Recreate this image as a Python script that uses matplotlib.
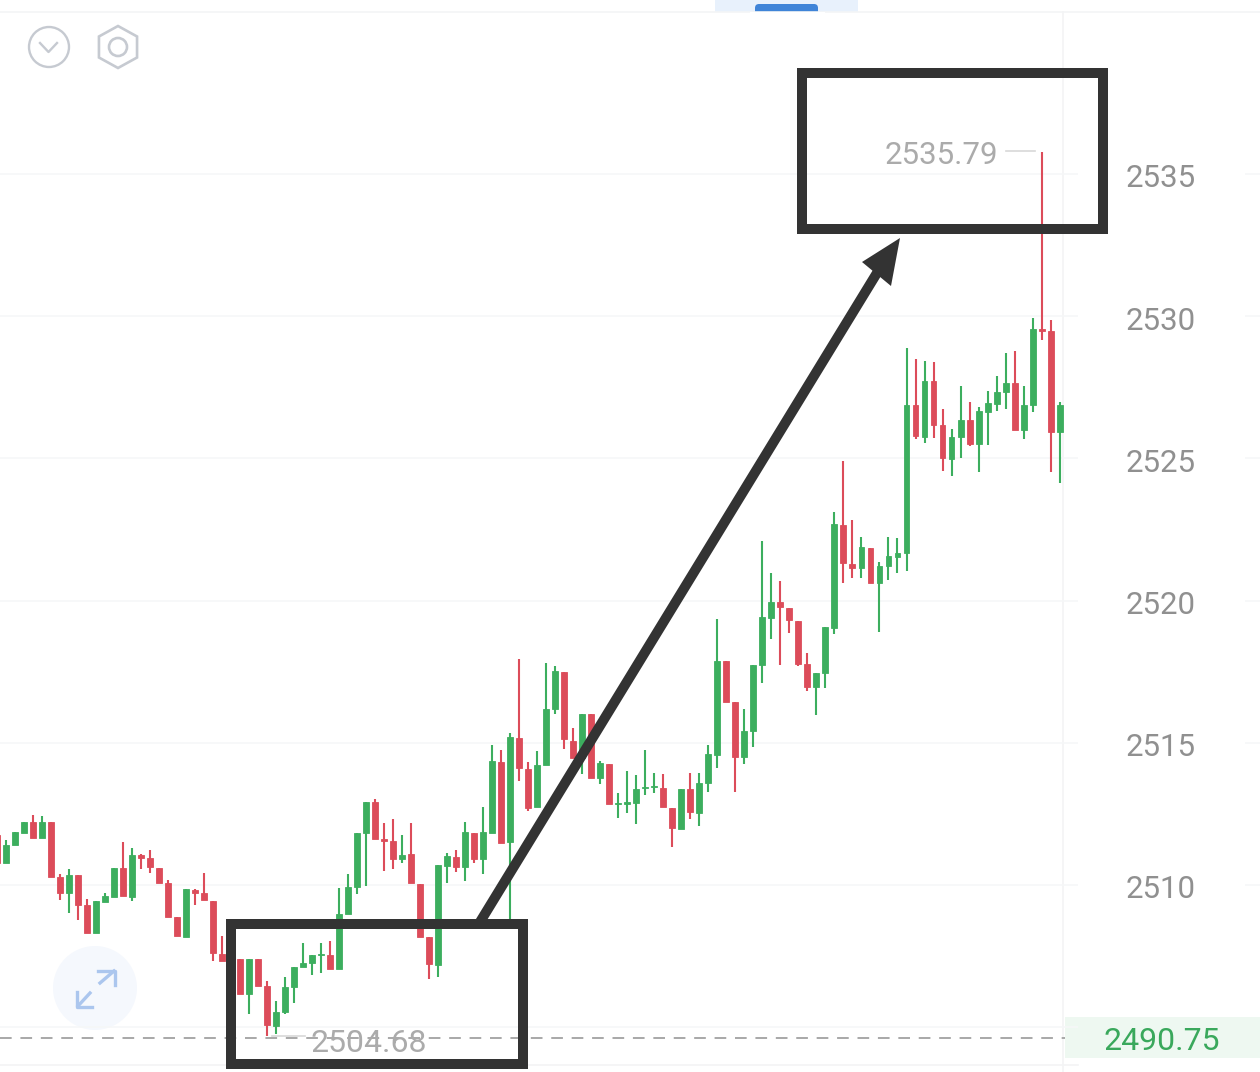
import numpy as np
import matplotlib
matplotlib.use('Agg')
import matplotlib.pyplot as plt
from matplotlib.patches import Circle, Rectangle, Polygon, FancyBboxPatch

plt.rcParams['font.family'] = ['Roboto', 'DejaVu Sans']

W, H = 1260, 1072
GREEN = '#3cae5e'
RED = '#dc4c5a'
GREY = '#909090'
DARK = '#333333'

# candles (oldest first)
opens = [2511.76, 2510.76, 2511.41, 2511.84, 2512.20, 2511.64, 2512.20, 2510.27, 2509.71, 2510.35,
         2509.30, 2508.30, 2509.41, 2509.59, 2510.59, 2509.59, 2511.05, 2510.94, 2510.60, 2510.08,
         2508.89, 2508.18, 2509.81, 2509.71, 2509.45, 2507.56, 2507.40, 2507.40, 2506.16, 2507.39,
         2506.46, 2505.05, 2505.55, 2506.40, 2507.11, 2507.25, 2507.53, 2507.54, 2507.03, 2508.97,
         2509.94, 2511.84, 2512.91, 2511.61, 2511.55, 2510.90, 2511.08, 2510.04, 2508.16, 2507.19,
         2510.68, 2511.00, 2510.62, 2511.82, 2510.93, 2511.84, 2514.34, 2511.52, 2515.16, 2514.07,
         2512.75, 2514.21, 2516.18, 2517.50, 2515.07, 2514.45, 2516.00, 2513.75, 2514.24, 2512.85,
         2512.86, 2512.89, 2513.41, 2513.43, 2513.40, 2512.72, 2511.97, 2513.36, 2512.54, 2513.57,
         2514.57, 2517.89, 2516.42, 2514.49, 2515.41, 2517.74, 2519.38, 2519.94, 2519.73, 2519.28,
         2517.76, 2516.97, 2517.44, 2519.05, 2522.66, 2521.29, 2521.13, 2521.86, 2520.63, 2521.20,
         2521.54, 2521.66, 2526.87, 2525.76, 2527.72, 2526.16, 2524.97, 2525.74, 2526.35, 2525.51,
         2526.64, 2526.92, 2527.32, 2527.64, 2525.99, 2526.88, 2529.54, 2529.48, 2525.93]
highs = [2511.76, 2511.58, 2511.85, 2512.23, 2512.46, 2512.44, 2512.20, 2510.38, 2510.56, 2510.35,
         2509.51, 2509.45, 2509.73, 2510.61, 2511.50, 2511.31, 2511.09, 2511.23, 2510.60, 2510.18,
         2508.89, 2509.85, 2509.85, 2510.41, 2509.45, 2508.22, 2507.40, 2507.40, 2507.40, 2507.39,
         2506.64, 2505.93, 2506.78, 2507.13, 2507.95, 2507.54, 2507.95, 2508.03, 2509.88, 2510.39,
         2511.84, 2512.91, 2513.01, 2512.17, 2512.31, 2511.76, 2512.17, 2510.04, 2508.16, 2510.69,
         2511.14, 2511.23, 2512.22, 2511.82, 2512.75, 2514.91, 2514.75, 2515.33, 2517.95, 2514.34,
         2514.71, 2517.82, 2517.70, 2517.50, 2515.51, 2516.01, 2516.00, 2514.37, 2514.24, 2513.25,
         2514.02, 2513.87, 2514.75, 2513.95, 2513.89, 2512.72, 2513.38, 2513.95, 2513.95, 2514.92,
         2519.35, 2517.89, 2516.42, 2516.18, 2517.74, 2522.10, 2520.98, 2520.69, 2519.73, 2519.28,
         2518.15, 2517.47, 2519.07, 2523.13, 2524.91, 2522.83, 2522.25, 2521.86, 2521.37, 2522.25,
         2522.19, 2528.87, 2528.48, 2528.44, 2528.38, 2526.72, 2526.02, 2527.54, 2526.99, 2526.79,
         2527.38, 2527.91, 2528.69, 2528.78, 2527.54, 2529.92, 2535.79, 2529.87, 2526.99]
lows = [2510.76, 2510.76, 2511.41, 2511.84, 2511.64, 2511.64, 2510.29, 2509.47, 2509.03, 2508.77,
        2508.30, 2508.30, 2509.41, 2509.59, 2509.61, 2509.44, 2510.55, 2510.41, 2510.08, 2508.89,
        2508.21, 2508.18, 2509.30, 2509.47, 2507.33, 2507.33, 2507.33, 2506.16, 2505.45, 2506.46,
        2504.68, 2504.75, 2505.45, 2505.86, 2507.11, 2506.84, 2506.89, 2507.03, 2507.03, 2508.97,
        2509.68, 2509.96, 2511.62, 2510.49, 2510.55, 2510.79, 2510.06, 2508.18, 2506.68, 2506.75,
        2510.06, 2510.47, 2510.14, 2510.76, 2510.38, 2511.84, 2511.47, 2508.77, 2513.67, 2512.60,
        2512.75, 2514.21, 2516.01, 2514.79, 2514.45, 2513.90, 2513.76, 2513.54, 2512.84, 2512.34,
        2512.52, 2512.13, 2513.16, 2513.22, 2512.75, 2511.32, 2511.97, 2512.31, 2512.09, 2513.26,
        2514.10, 2516.45, 2513.26, 2514.25, 2514.86, 2517.09, 2518.65, 2517.74, 2518.85, 2517.70,
        2516.82, 2515.98, 2516.91, 2518.83, 2520.61, 2520.78, 2520.81, 2520.63, 2518.88, 2520.72,
        2520.98, 2521.03, 2525.67, 2525.55, 2525.70, 2524.56, 2524.38, 2525.00, 2525.44, 2524.51,
        2525.46, 2526.68, 2526.72, 2526.00, 2525.67, 2526.64, 2529.16, 2524.53, 2524.12]
closes = [2510.76, 2511.41, 2511.85, 2512.23, 2511.64, 2512.23, 2510.29, 2509.73, 2510.35, 2509.30,
          2508.30, 2509.45, 2509.61, 2510.61, 2509.61, 2511.05, 2510.96, 2510.62, 2510.08, 2508.89,
          2508.21, 2509.85, 2509.71, 2509.47, 2507.60, 2507.33, 2507.33, 2506.16, 2507.40, 2506.46,
          2505.08, 2505.55, 2506.40, 2507.13, 2507.25, 2507.54, 2507.57, 2507.03, 2508.97, 2509.94,
          2511.84, 2512.91, 2511.62, 2511.55, 2510.91, 2511.05, 2510.06, 2508.18, 2507.21, 2510.69,
          2511.03, 2510.64, 2511.85, 2510.91, 2511.86, 2514.35, 2511.49, 2515.19, 2514.10, 2512.72,
          2514.21, 2516.18, 2517.54, 2515.12, 2514.45, 2516.01, 2513.76, 2514.28, 2512.84, 2512.89,
          2512.91, 2513.36, 2513.46, 2513.48, 2512.75, 2511.99, 2513.38, 2512.57, 2513.60, 2514.59,
          2517.89, 2516.45, 2514.51, 2515.41, 2517.74, 2519.41, 2519.95, 2519.76, 2519.31, 2517.76,
          2516.97, 2517.47, 2519.07, 2522.69, 2521.31, 2521.16, 2521.90, 2520.63, 2521.22, 2521.57,
          2521.67, 2526.88, 2525.80, 2527.73, 2526.17, 2525.00, 2525.76, 2526.35, 2525.49, 2526.67,
          2526.96, 2527.33, 2527.66, 2526.00, 2526.89, 2529.56, 2529.49, 2525.94, 2526.88]

price_ticks = [2510, 2515, 2520, 2525, 2530, 2535]
grid_prices = [2505, 2510, 2515, 2520, 2525, 2530, 2535]
tick_labels = ['2510', '2515', '2520', '2525', '2530', '2535']
last_price = 2504.62
last_label = '2490.75'
high_label = '2535.79'
low_label = '2504.68'

fig = plt.figure(figsize=(W / 100, H / 100), dpi=100)

# pixel overlays behind and in front of the chart
back = fig.add_axes([0, 0, 1, 1], zorder=0)
ax = fig.add_axes([0, 0, 1, 1], zorder=1)
front = fig.add_axes([0, 0, 1, 1], zorder=2)
for a in (back, front):
    a.set_xlim(0, W)
    a.set_ylim(H, 0)
    a.axis('off')

# 9 px per candle, first candle at x=6; 28.44 px per price unit, 2535 at y=174
ax.set_xlim(-6 / 9.005, (W - 6) / 9.005)
ax.set_ylim(2535 - (H - 174) / 28.44, 2535 + 174 / 28.44)
ax.axis('off')

trans = ax.get_yaxis_transform()
ax.hlines(grid_prices, 0, 1078 / W, transform=trans, color='#f6f7f8', lw=1.2, zorder=1)
ax.hlines(grid_prices[1:], 1245 / W, 1, transform=trans, color='#f6f7f8', lw=1.2, zorder=1)
for p, lab in zip(price_ticks, tick_labels):
    ax.text(1196 / W, p - 0.17, lab, transform=trans, ha='right', va='center',
            color=GREY, fontsize=22.5, zorder=3)

# axis frame and header
back.plot([0, W], [12, 12], color='#f4f5f6', lw=1.2)
back.plot([1063, 1063], [12, H], color='#f3f4f5', lw=1.2)
back.plot([0, 1078], [1065, 1065], color='#f3f4f5', lw=1.2)
back.add_patch(Rectangle((715, 0), 143, 12, color='#e8f1fc', lw=0))
back.add_patch(FancyBboxPatch((759, 8), 55, 6, boxstyle='round,pad=4,rounding_size=4',
                              color='#3f84d8', lw=0))
back.add_patch(Rectangle((750, 12), 75, 8, color='white', lw=0, zorder=3))

# candles
x = np.arange(len(opens)) - 1
opens = np.array(opens)
closes = np.array(closes)
colors = [GREEN if c >= o else RED for o, c in zip(opens, closes)]
ax.vlines(x, lows, highs, color=colors, lw=1.5, zorder=2)
ax.bar(x, closes - opens, bottom=opens, width=0.66, color=colors, edgecolor=colors, lw=0.6, zorder=2)

# last price line and label
ax.hlines(last_price, 0, 1065 / W, transform=trans, color='#a8a8a8', lw=1.4,
          linestyles=(0, (6, 4.5)), zorder=2)
back.add_patch(Rectangle((1065, 1017), 195, 41, color='#eef8f1', lw=0))
front.text(1162, 1042, last_label, ha='center', va='center', color='#3aa85c', fontsize=23)

# high and low labels
front.plot([1006, 1035], [151, 151], color='#d8d8d8', lw=1.2)
front.text(998, 155, high_label, ha='right', va='center', color='#ababab', fontsize=22.5)
front.plot([272, 305], [1036, 1036], color='#d8d8d8', lw=1.2)
front.text(310, 1043, low_label, ha='left', va='center', color='#ababab', fontsize=23)

# hand-drawn boxes and arrow
for bx, by, bw, bh in [(802, 73, 301, 156), (231, 924, 292, 140)]:
    front.add_patch(Rectangle((bx, by), bw, bh, fill=False, ec=DARK, lw=7.2, joinstyle='miter'))
front.plot([480, 880], [922, 268], color=DARK, lw=7.2, solid_capstyle='butt')
front.add_patch(Polygon([(900, 238), (862, 262), (891, 286)], closed=True, color=DARK, lw=0))

# toolbar icons
ICON = '#c6cad1'
front.add_patch(Circle((49, 47), 20, fill=False, ec=ICON, lw=1.7))
front.plot([40, 48.5, 57], [43, 52, 43], color=ICON, lw=1.7)
ang = np.deg2rad(np.arange(6) * 60 + 90)
front.add_patch(Polygon(np.c_[118 + 22 * np.cos(ang), 47 + 21 * np.sin(ang)], closed=True,
                        fill=False, ec=ICON, lw=1.9))
front.add_patch(Circle((118, 47), 9, fill=False, ec=ICON, lw=1.9))

# expand button
BLUE = '#abc6ee'
back.add_patch(Circle((95, 988), 42, color='#f5f8fd', lw=0))
front.plot([100, 114], [983, 971], color=BLUE, lw=2.4)
front.plot([98, 115, 115], [971, 971, 985], color=BLUE, lw=2.4)
front.plot([90, 78], [993, 1006], color=BLUE, lw=2.4)
front.plot([77, 77, 92], [992, 1007, 1007], color=BLUE, lw=2.4)

fig.savefig('out.png', dpi=100, facecolor='white')
